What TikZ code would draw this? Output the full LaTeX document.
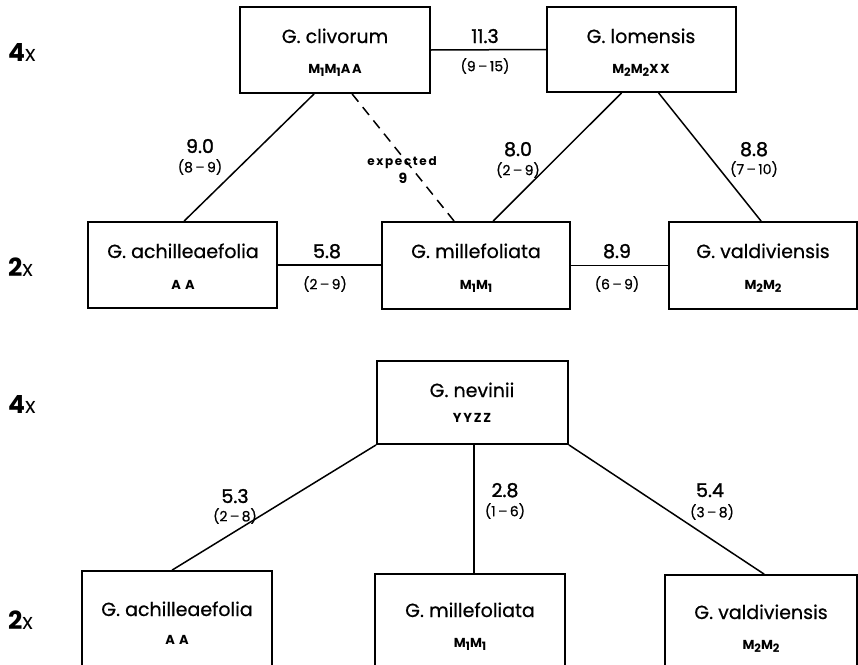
\documentclass[tikz,border=0pt]{standalone}
\usepackage{fontspec}
\setmainfont{Poppins}
\newfontfamily\namefont[FakeBold=0.6]{Poppins}
\newfontfamily\valfont[FakeBold=1.4]{Poppins}
\newfontfamily\genofont[LetterSpace=14]{Poppins}
\newfontfamily\smallfont[LetterSpace=14]{Poppins}
\newcommand\subn[1]{\raisebox{-0.45ex}{\fontsize{11.5}{11.5}\selectfont #1}}
\begin{document}
\begin{tikzpicture}[x=1pt,y=-1pt,
  box/.style 2 args={draw,line width=1.8pt,minimum width=#1,minimum height=#2,inner sep=0pt},
  spname/.style={anchor=base,inner sep=0pt,font=\namefont\fontsize{19}{22}\selectfont},
  geno/.style={anchor=base,inner sep=0pt,font=\genofont\bfseries\fontsize{13}{14}\selectfont},
  val/.style={anchor=base,inner sep=0pt,font=\valfont\fontsize{19}{20}\selectfont},
  rng/.style={anchor=center,inner sep=0pt,font=\namefont\fontsize{14}{16}\selectfont},
  rowlab/.style={anchor=base west,inner sep=0pt,font=\fontsize{22}{22}\selectfont},
  conn/.style={line width=1.5pt},
  dconn/.style={line width=1.5pt,dash pattern=on 10pt off 7pt}]
\useasboundingbox (0,0) rectangle (858,664);
\clip (0,0) rectangle (858,664);

% row labels
\node[rowlab] (r1) at (8,61) {{\fontsize{25}{25}\selectfont\bfseries 4}x};
\node[rowlab] (r2) at (8,276) {{\fontsize{25}{25}\selectfont\bfseries 2}x};
\node[rowlab] (r3) at (8,413) {{\fontsize{25}{25}\selectfont\bfseries 4}x};
\node[rowlab] (r4) at (8,629) {{\fontsize{25}{25}\selectfont\bfseries 2}x};

% top diagram boxes
\node[box={190}{86}] (cliv) at (335,50) {};
\node[box={189}{85}] (lom) at (641.5,49.5) {};
\node[box={189}{86}] (achT) at (182.5,265) {};
\node[box={188}{87}] (milT) at (476,265.5) {};
\node[box={188}{87}] (valT) at (763,265.5) {};

\node[spname] (clivN) at (335,43) {G. clivorum};
\node[geno] (clivG) at (335,73) {M\subn{1}M\subn{1}AA};
\node[spname] (lomN) at (641,43) {G. lomensis};
\node[geno] (lomG) at (641,73) {M\subn{2}M\subn{2}XX};
\node[spname] (achTN) at (183,258) {G. achilleaefolia};
\node[geno] (achTG) at (183,289) {A\,\,A};
\node[spname] (milTN) at (476,258) {G. millefoliata};
\node[geno] (milTG) at (476,289) {M\subn{1}M\subn{1}};
\node[spname] (valTN) at (763,258) {G. valdiviensis};
\node[geno] (valTG) at (763,289) {M\subn{2}M\subn{2}};

% top connectors
\draw[conn] (cliv.east) -- (lom.west);
\draw[conn] (achT.east) -- (achT.east -| milT.west);
\draw[conn] (milT.east) -- (milT.east -| valT.west);
\draw[conn] ([xshift=75pt]cliv.south west) -- ([xshift=97pt]achT.north west);
\draw[dconn] ([xshift=113pt]cliv.south west) -- ([xshift=73pt]milT.north west);
\draw[conn] ([xshift=75.5pt]lom.south west) -- ([xshift=112pt]milT.north west);
\draw[conn] ([xshift=112.5pt]lom.south west) -- ([xshift=93pt]valT.north west);

% top labels
\node[val] (v1) at (485,43) {11.3};
\node[rng] (v1r) at (485,66) {(9\,–\,15)};
\node[val] (v2) at (200,153) {9.0};
\node[rng] (v2r) at (200,167) {(8\,–\,9)};
\node[anchor=base,inner sep=0pt,font=\smallfont\bfseries\fontsize{12}{12}\selectfont] (exp) at (402,165) {expected};
\node[anchor=base,inner sep=0pt,font=\bfseries\fontsize{14}{14}\selectfont] (exp9) at (403,183) {9};
\node[val] (v3) at (518,156) {8.0};
\node[rng] (v3r) at (518,170) {(2\,–\,9)};
\node[val] (v4) at (754,156) {8.8};
\node[rng] (v4r) at (754,169) {(7\,–\,10)};
\node[val] (v5) at (327,258) {5.8};
\node[rng] (v5r) at (325,284) {(2\,–\,9)};
\node[val] (v6) at (617,258) {8.9};
\node[rng] (v6r) at (617,284) {(6\,–\,9)};

% bottom diagram boxes
\node[box={191}{83}] (nev) at (472.5,402.5) {};
\node[box={190}{98}] (achB) at (177,620) {};
\node[box={190}{96}] (milB) at (470,622) {};
\node[box={192}{96}] (valB) at (761,623) {};

\node[spname] (nevN) at (472,397) {G. nevinii};
\node[geno] (nevG) at (472,422) {YYZZ};
\node[spname] (achBN) at (177,616) {G. achilleaefolia};
\node[geno] (achBG) at (177,644) {A\,\,A};
\node[spname] (milBN) at (470,617) {G. millefoliata};
\node[geno] (milBG) at (470,647) {M\subn{1}M\subn{1}};
\node[spname] (valBN) at (761,619) {G. valdiviensis};
\node[geno] (valBG) at (761,649) {M\subn{2}M\subn{2}};

% bottom connectors
\draw[conn] (nev.south west) -- ([xshift=91pt]achB.north west);
\draw[conn] ([xshift=98pt]nev.south west) -- ([xshift=100pt]milB.north west);
\draw[conn] (nev.south east) -- ([xshift=100pt]valB.north west);

% bottom labels
\node[val] (w1) at (235,503) {5.3};
\node[rng] (w1r) at (235,516) {(2\,–\,8)};
\node[val] (w2) at (505,497) {2.8};
\node[rng] (w2r) at (505,511) {(1\,–\,6)};
\node[val] (w3) at (710,497) {5.4};
\node[rng] (w3r) at (712,512) {(3\,–\,8)};
\end{tikzpicture}
\end{document}
